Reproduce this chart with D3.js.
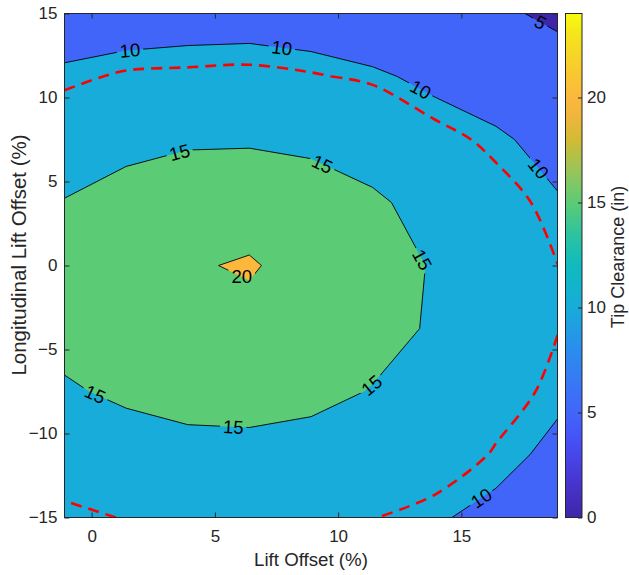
<!DOCTYPE html>
<html>
<head>
<meta charset="utf-8">
<script src="https://cdn.jsdelivr.net/npm/d3@7"></script>
<style>
	body { margin: 0; background: #fff; }
	text { font-family: "Liberation Sans", Arial, Helvetica, sans-serif; }
</style>
</head>
<body>
<svg id="chart" width="629" height="575"></svg>
<script>
// grid axes
const liftOffset = [-1.1, 1.4, 3.9, 6.4, 8.9, 11.4, 13.9, 16.4, 18.9]
const longOffset = [-15, -11.25, -7.5, -3.75, 0, 3.75, 7.5, 11.25, 15]

// tip clearance (in), one row per longitudinal offset, bottom row first
const clearance = [
	[10.5, 11.1, 11.9, 12.0, 11.9, 11.06, 10.28, 9.3, 7.3],
	[12.4, 12.5, 14.1, 14.1, 13.8, 12.9, 12.3, 10.81, 9.35],
	[14.4, 15.9, 16.0, 16.2, 15.8, 14.87, 13.6, 11.9, 10.5],
	[16.7, 18.0, 18.2, 18.4, 17.4, 16.0, 14.69, 12.41, 11.06],
	[17.5, 18.4, 19.5, 20.5, 17.95, 16.2, 14.8, 12.33, 11.02],
	[15.16, 16.74, 17.0, 17.5, 16.83, 15.44, 14.0, 12.06, 10.2],
	[12.8, 13.7, 14.6, 14.6, 14.2, 13.6, 11.9, 10.39, 9.1],
	[10.5, 11.3, 11.42, 11.55, 11.2, 10.6, 9.1, 8.54, 7.2],
	[8.2, 8.15, 8.53, 8.6, 8.17, 6.73, 6.3, 5.8, 4.1]
]

const levels = [0, 5, 10, 15, 20]
const limitLevel = 11

const xTicks = [0, 5, 10, 15]
const yTicks = [-15, -10, -5, 0, 5, 10, 15]
const colorTicks = [0, 5, 10, 15, 20]
const colorDomain = [0, 24]

// parula colormap stops (clearance value -> colour)
const parulaValues = [0, 1.5, 3, 4, 5, 6.5, 8, 10, 12, 13.5, 15, 16.5, 18, 19, 20, 21.5, 23, 24]
const parulaColors = ['#3e26a8', '#4633cb', '#4746eb', '#4556f8', '#4265f9', '#3779f5', '#2b8ded', '#17acd9', '#0fbbbf',
	'#2ec39e', '#5ccb75', '#98c55a', '#d2bb34', '#eeb53c', '#fbb83d', '#f8cd2c', '#f5e41c', '#f9fb0e']

// contour labels: level and rough position
const labelLevels = [10, 10, 10, 10, 5, 15, 15, 15, 15, 15, 15, 20, 10]
const labelX = [1.55, 7.7, 13.38, 18.04, 18.17, 3.58, 9.32, 13.38, 11.35, 5.74, 0.13, 6.15, 15.81]
const labelY = [12.92, 12.8, 10.58, 5.67, 14.39, 6.66, 5.92, 0.32, -7.12, -9.73, -7.71, -0.48, -13.85]
const labelUpright = [false, false, false, false, false, false, false, false, false, false, false, true, false]

const svg = d3.select('#chart')
const plot = {left: 64.5, top: 13.5, right: 557.5, bottom: 517.5}
const bar = {left: 565.5, right: 582}
const ink = '#262626'

const x = d3.scaleLinear().domain(d3.extent(liftOffset)).range([plot.left, plot.right])
const y = d3.scaleLinear().domain(d3.extent(longOffset)).range([plot.bottom, plot.top])
const c = d3.scaleLinear().domain(colorDomain).range([plot.bottom, plot.top])
const parula = d3.scaleLinear().domain(parulaValues).range(parulaColors).interpolate(d3.interpolateRgb)

// d3.contours puts grid value i at i + 0.5
const nx = liftOffset.length, ny = longOffset.length
const gx = d3.scaleLinear().domain([0.5, nx - 0.5]).range(d3.extent(liftOffset))
const gy = d3.scaleLinear().domain([0.5, ny - 0.5]).range(d3.extent(longOffset))
const values = clearance.flat()
const contours = d3.contours().size([nx, ny]).thresholds(levels)
const toPixel = p => [x(gx(p[0])), y(gy(p[1]))]
const path = d3.geoPath(d3.geoTransform({
	point(px, py) { const q = toPixel([px, py]); this.stream.point(q[0], q[1]) }
}))
const inside = p => p[0] >= plot.left - 0.5 && p[0] <= plot.right + 0.5 && p[1] >= plot.top - 0.5 && p[1] <= plot.bottom + 0.5

const defs = svg.append('defs')
defs.append('clipPath').attr('id', 'plotClip')
	.append('rect')
	.attr('x', plot.left).attr('y', plot.top)
	.attr('width', plot.right - plot.left).attr('height', plot.bottom - plot.top)

// filled bands
svg.append('g').attr('clip-path', 'url(#plotClip)')
	.selectAll('path')
	.data(contours(values))
	.join('path')
	.attr('d', path)
	.attr('fill', d => parula(d.value))

// find the nearest point on a contour line, with its direction
const nearestOnLevel = (level, px, py) => {
	let best = null
	contours.contour(values, level).coordinates.forEach(poly => poly.forEach(ring => {
		const pts = ring.map(toPixel)
		for (let i = 1; i < pts.length; i++) {
			const a = pts[i - 1], b = pts[i]
			if (!inside(a) || !inside(b)) continue
			const dx = b[0] - a[0], dy = b[1] - a[1]
			const len2 = dx * dx + dy * dy
			if (len2 === 0) continue
			const t = Math.max(0, Math.min(1, ((px - a[0]) * dx + (py - a[1]) * dy) / len2))
			const qx = a[0] + t * dx, qy = a[1] + t * dy
			const dist = Math.hypot(px - qx, py - qy)
			if (!best || dist < best.dist) best = {x: qx, y: qy, dist, angle: Math.atan2(dy, dx) * 180 / Math.PI}
		}
	}))
	let angle = best.angle
	if (angle > 90) angle -= 180
	if (angle < -90) angle += 180
	return {x: best.x, y: best.y, angle}
}

const labels = labelLevels.map((level, i) => {
	const p = nearestOnLevel(level, x(labelX[i]), y(labelY[i]))
	return {level, x: p.x, y: p.y, angle: labelUpright[i] ? 0 : p.angle}
})

const labelGroup = svg.append('g')
const labelText = labelGroup.selectAll('text')
	.data(labels)
	.join('text')
	.attr('transform', d => `translate(${d.x},${d.y}) rotate(${d.angle})`)
	.attr('text-anchor', 'middle')
	.attr('dy', '0.36em')
	.attr('font-size', 18.5)
	.attr('fill', '#000')
	.text(d => d.level)
labelText.each(function(d) { d.width = this.getComputedTextLength() })

// gaps in the contour lines under the labels
const mask = defs.append('mask').attr('id', 'labelGaps')
	.attr('maskUnits', 'userSpaceOnUse')
	.attr('x', 0).attr('y', 0).attr('width', 629).attr('height', 575)
mask.append('rect').attr('width', 629).attr('height', 575).attr('fill', '#fff')
mask.selectAll('.gap')
	.data(labels)
	.join('rect')
	.attr('class', 'gap')
	.attr('x', d => -d.width / 2 - 3)
	.attr('y', -8)
	.attr('width', d => d.width + 6)
	.attr('height', 16)
	.attr('transform', d => `translate(${d.x},${d.y}) rotate(${d.angle})`)
	.attr('fill', '#000')

const lines = svg.append('g').attr('clip-path', 'url(#plotClip)')
lines.append('g').attr('mask', 'url(#labelGaps)')
	.selectAll('path')
	.data(levels.slice(1).map(l => contours.contour(values, l)))
	.join('path')
	.attr('d', path)
	.attr('fill', 'none')
	.attr('stroke', '#000')
	.attr('stroke-width', 0.9)

// the clearance limit, drawn as a smoothed dashed curve
const limitRuns = []
contours.contour(values, limitLevel).coordinates.forEach(poly => poly.forEach(ring => {
	const pts = ring.map(toPixel)
	let run = []
	pts.forEach(p => {
		if (inside(p)) run.push(p)
		else { if (run.length > 1) limitRuns.push(run); run = [] }
	})
	if (run.length > 1) limitRuns.push(run)
}))
const smoothLine = d3.line().curve(d3.curveCatmullRom.alpha(0.5))
lines.selectAll('.limit')
	.data(limitRuns)
	.join('path')
	.attr('class', 'limit')
	.attr('d', smoothLine)
	.attr('fill', 'none')
	.attr('stroke', '#ff0000')
	.attr('stroke-width', 2.6)
	.attr('stroke-dasharray', '11,7')

labelGroup.raise()

// axes
const styleAxis = g => {
	g.select('.domain').remove()
	g.selectAll('line').attr('stroke', ink)
	g.selectAll('text').attr('fill', ink).attr('font-size', 17).attr('font-family', null)
}
svg.append('g').attr('transform', `translate(0,${plot.bottom})`)
	.call(d3.axisBottom(x).tickValues(xTicks).tickSizeInner(-5).tickSizeOuter(0).tickPadding(12))
	.call(styleAxis)
svg.append('g').attr('transform', `translate(0,${plot.top})`)
	.call(d3.axisTop(x).tickValues(xTicks).tickSizeInner(-5).tickSizeOuter(0).tickFormat(() => ''))
	.call(styleAxis)
svg.append('g').attr('transform', `translate(${plot.left},0)`)
	.call(d3.axisLeft(y).tickValues(yTicks).tickSizeInner(-5).tickSizeOuter(0).tickPadding(7))
	.call(styleAxis)
svg.append('g').attr('transform', `translate(${plot.right},0)`)
	.call(d3.axisRight(y).tickValues(yTicks).tickSizeInner(-5).tickSizeOuter(0).tickFormat(() => ''))
	.call(styleAxis)
svg.append('rect')
	.attr('x', plot.left).attr('y', plot.top)
	.attr('width', plot.right - plot.left).attr('height', plot.bottom - plot.top)
	.attr('fill', 'none').attr('stroke', ink).attr('stroke-width', 1)

svg.append('text')
	.attr('x', (plot.left + plot.right) / 2).attr('y', 566)
	.attr('text-anchor', 'middle').attr('font-size', 18.7).attr('fill', ink)
	.text('Lift Offset (%)')
svg.append('text')
	.attr('transform', `translate(26,255) rotate(-90)`)
	.attr('text-anchor', 'middle').attr('font-size', 20.5).attr('fill', ink)
	.text('Longitudinal Lift Offset (%)')

// colorbar
const grad = defs.append('linearGradient').attr('id', 'parulaGrad')
	.attr('x1', 0).attr('y1', 1).attr('x2', 0).attr('y2', 0)
grad.selectAll('stop')
	.data(parulaValues)
	.join('stop')
	.attr('offset', v => (v - colorDomain[0]) / (colorDomain[1] - colorDomain[0]))
	.attr('stop-color', v => parula(v))
svg.append('rect')
	.attr('x', bar.left).attr('y', plot.top)
	.attr('width', bar.right - bar.left).attr('height', plot.bottom - plot.top)
	.attr('fill', 'url(#parulaGrad)').attr('stroke', ink).attr('stroke-width', 1)
svg.append('g').attr('transform', `translate(${bar.right},0)`)
	.call(d3.axisRight(c).tickValues(colorTicks).tickSizeInner(-4).tickSizeOuter(0).tickPadding(5))
	.call(styleAxis)
svg.append('text')
	.attr('transform', `translate(624,257) rotate(-90)`)
	.attr('text-anchor', 'middle').attr('font-size', 18).attr('fill', ink)
	.text('Tip Clearance (in)')
</script>
</body>
</html>
